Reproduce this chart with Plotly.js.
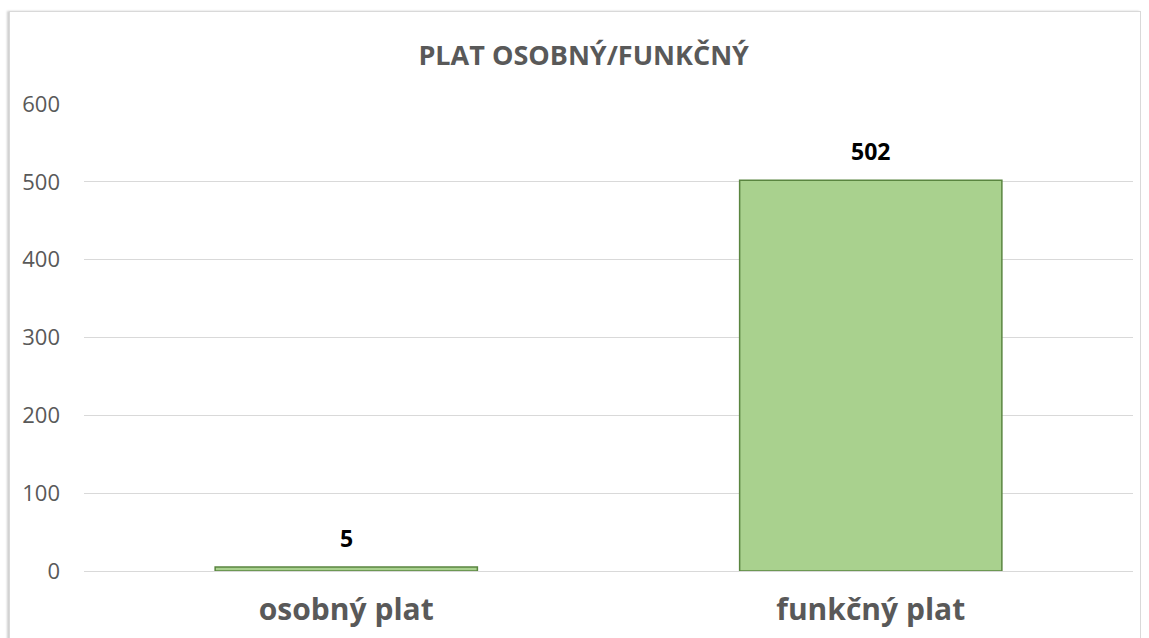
<!DOCTYPE html>
<html>
<head>
<meta charset="utf-8">
<script src="https://cdn.plot.ly/plotly-3.0.1.min.js"></script>
<style>
  html, body { margin: 0; padding: 0; background: #fff; }
  #wrap { position: relative; width: 1149px; height: 638px; }
  #frame { position: absolute; left: 9px; top: 11px; width: 1130px; height: 640px;
           border: 1px solid #d9d9d9; box-shadow: -2px 0 2px #cfcfcf; pointer-events: none; }
  #chart { position: absolute; left: 0; top: 0; width: 1149px; height: 638px; }
</style>
</head>
<body>
<div id="wrap">
  <div id="frame"></div>
  <div id="chart"></div>
</div>
<script>
const categories = ["osobný plat", "funkčný plat"];
const values = [5, 502];
const tickVals = [0, 100, 200, 300, 400, 500, 600];

const trace = {
  type: "bar",
  x: categories,
  y: values,
  width: 0.5,
  marker: { color: "#A9D18E", line: { color: "#5A8540", width: 1.5 } },
  hoverinfo: "none"
};

const annotations = categories.map((c, i) => ({
  x: c,
  y: values[i],
  xref: "x",
  yref: "y",
  text: "<b>" + values[i] + "</b>",
  showarrow: false,
  yanchor: "bottom",
  yshift: 11,
  font: { family: "Open Sans", size: 23, color: "#000000" }
}));

const layout = {
  width: 1149,
  height: 638,
  margin: { l: 84, r: 16, t: 104, b: 67 },
  paper_bgcolor: "rgba(0,0,0,0)",
  plot_bgcolor: "rgba(0,0,0,0)",
  showlegend: false,
  annotations: annotations,
  title: {
    text: "<b>PLAT OSOBNÝ/FUNKČNÝ</b>",
    font: { family: "Open Sans", size: 27, color: "#595959" },
    x: 0.508, xanchor: "center", y: 0.913, yanchor: "middle"
  },
  xaxis: {
    type: "category",
    tickfont: { family: "Open Sans", size: 30, color: "#595959", weight: "bold" },
    showgrid: false,
    showline: false,
    zeroline: false,
    ticks: "",
    ticklabelstandoff: 18
  },
  yaxis: {
    range: [0, 600],
    tickvals: tickVals,
    ticktext: tickVals.map(String),
    tickfont: { family: "Open Sans", size: 22, color: "#595959" },
    gridcolor: "#d9d9d9",
    gridwidth: 1,
    zeroline: true,
    zerolinecolor: "#d9d9d9",
    zerolinewidth: 1,
    showline: false,
    ticks: "",
    ticklabelstandoff: 23
  }
};

Plotly.newPlot("chart", [trace], layout, { displayModeBar: false, staticPlot: true });
</script>
</body>
</html>
